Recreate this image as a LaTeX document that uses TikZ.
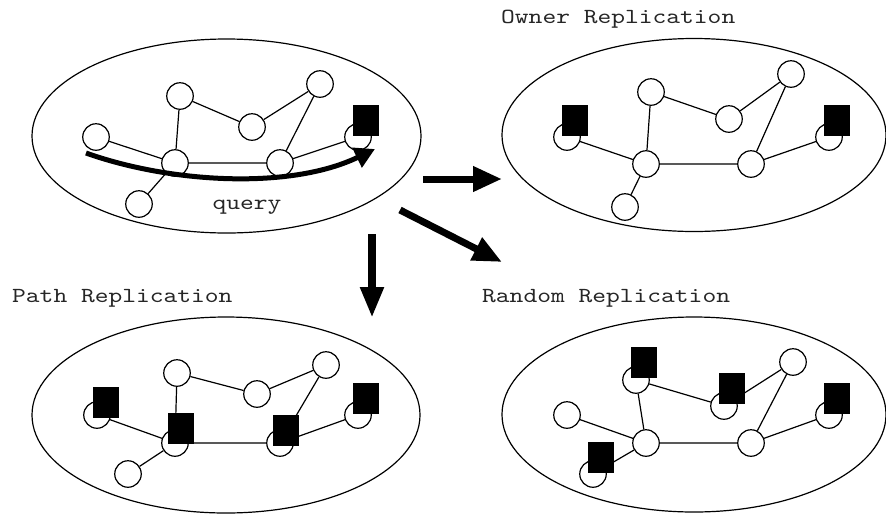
\documentclass[tikz,border=0pt]{standalone}
\usepackage{fontspec}
\newfontfamily\courfont[FakeStretch=1.22]{lmmono10-regular.otf}
\usetikzlibrary{arrows.meta,shapes.geometric}
\begin{document}
\begin{tikzpicture}[x=1pt,y=-1pt,
  peer/.style={circle,draw,line width=1.2pt,minimum size=26.5pt,inner sep=0pt,fill=white},
  replica/.style={rectangle,fill=black,minimum width=26pt,minimum height=31pt,inner sep=0pt},
  net/.style={ellipse,draw,line width=1.2pt,inner sep=0pt},
  link/.style={line width=1.2pt},
  title/.style={anchor=base west,inner sep=0pt,text=black!85,font=\courfont\fontsize{21.5}{26}\selectfont},
  bigarrow/.style={line width=7pt,-{Triangle[length=29pt,width=24pt]}},
  queryarrow/.style={line width=5pt,-{Triangle[length=20pt,width=21pt]}}
]
\useasboundingbox (0,0) rectangle (886,515);

% ---------- panel 1 (query) ----------
\node[net,minimum width=389pt,minimum height=194pt] (e1) at (226.5,136) {};
\node[peer] (a1) at (96,137) {};
\node[peer] (b1) at (180,96) {};
\node[peer] (c1) at (252,127) {};
\node[peer] (d1) at (320,84) {};
\node[peer] (e1n) at (358,137) {};
\node[peer] (f1) at (175,163) {};
\node[peer] (g1) at (280,163) {};
\node[peer] (h1) at (139,204) {};
\draw[link] (a1) -- (f1) (f1) -- (b1) (b1) -- (c1) (c1) -- (d1) (d1) -- (g1) (f1) -- (g1) (g1) -- (e1n) (f1) -- (h1);
\node[replica] (s1e) at (365.5,120.5) {};
\coordinate (q0) at (86,153);
\coordinate (q1) at (375,149);
\draw[queryarrow] (q0) .. controls (170,183) and (290,190) .. (q1);
\node[title,anchor=base] (qt) at (247,209) {query};

% ---------- panel 2 (owner) ----------
\node[title] (t2) at (501,23) {Owner Replication};
\node[net,minimum width=384pt,minimum height=193pt] (e2) at (694,135) {};
\node[peer] (a2) at (567,137) {};
\node[peer] (b2) at (651,92) {};
\node[peer] (c2) at (729,119) {};
\node[peer] (d2) at (791,74) {};
\node[peer] (e2n) at (829,137) {};
\node[peer] (f2) at (646,164) {};
\node[peer] (g2) at (751,164) {};
\node[peer] (h2) at (625,207) {};
\draw[link] (a2) -- (f2) (f2) -- (b2) (b2) -- (c2) (c2) -- (d2) (d2) -- (g2) (f2) -- (g2) (g2) -- (e2n) (f2) -- (h2);
\node[replica] (s2a) at (575,120.5) {};
\node[replica] (s2e) at (837,120.5) {};

% ---------- panel 3 (path) ----------
\node[title] (t3) at (12,302) {Path Replication};
\node[net,minimum width=388pt,minimum height=196pt] (e3) at (226,415) {};
\node[peer] (a3) at (97,415) {};
\node[peer] (b3) at (177,373) {};
\node[peer] (c3) at (257,394) {};
\node[peer] (d3) at (326,365) {};
\node[peer] (e3n) at (358,415) {};
\node[peer] (f3) at (175,443) {};
\node[peer] (g3) at (280,443) {};
\node[peer] (h3) at (128,474) {};
\draw[link] (a3) -- (f3) (f3) -- (b3) (b3) -- (c3) (c3) -- (d3) (d3) -- (g3) (f3) -- (g3) (g3) -- (e3n) (f3) -- (h3);
\node[replica] (s3a) at (106,402.5) {};
\node[replica] (s3e) at (366,398.5) {};
\node[replica] (s3f) at (181,428.5) {};
\node[replica] (s3g) at (286,430) {};

% ---------- panel 4 (random) ----------
\node[title] (t4) at (482,302) {Random Replication};
\node[net,minimum width=384pt,minimum height=195pt] (e4) at (694,414.5) {};
\node[peer] (a4) at (567,415) {};
\node[peer] (b4) at (636,380) {};
\node[peer] (c4) at (724,406) {};
\node[peer] (d4) at (793,362) {};
\node[peer] (e4n) at (829,415) {};
\node[peer] (f4) at (646,443) {};
\node[peer] (g4) at (751,443) {};
\node[peer] (h4) at (593,474) {};
\draw[link] (a4) -- (f4) (f4) -- (b4) (b4) -- (c4) (c4) -- (d4) (d4) -- (g4) (f4) -- (g4) (g4) -- (e4n) (f4) -- (h4);
\node[replica] (s4b) at (644,362.5) {};
\node[replica] (s4c) at (732,388.5) {};
\node[replica] (s4e) at (837,398.5) {};
\node[replica] (s4h) at (601,457.5) {};

% ---------- arrows between panels ----------
\coordinate (r0) at (423,179);
\coordinate (r1) at (502,179);
\coordinate (dg0) at (400,210);
\coordinate (dg1) at (502,262);
\coordinate (dn0) at (372,234);
\coordinate (dn1) at (372,318);
\draw[bigarrow] (r0) -- (r1);
\draw[bigarrow] (dg0) -- (dg1);
\draw[bigarrow,line width=8pt,-{Triangle[length=31pt,width=22pt]}] (dn0) -- (dn1);
\end{tikzpicture}
\end{document}
